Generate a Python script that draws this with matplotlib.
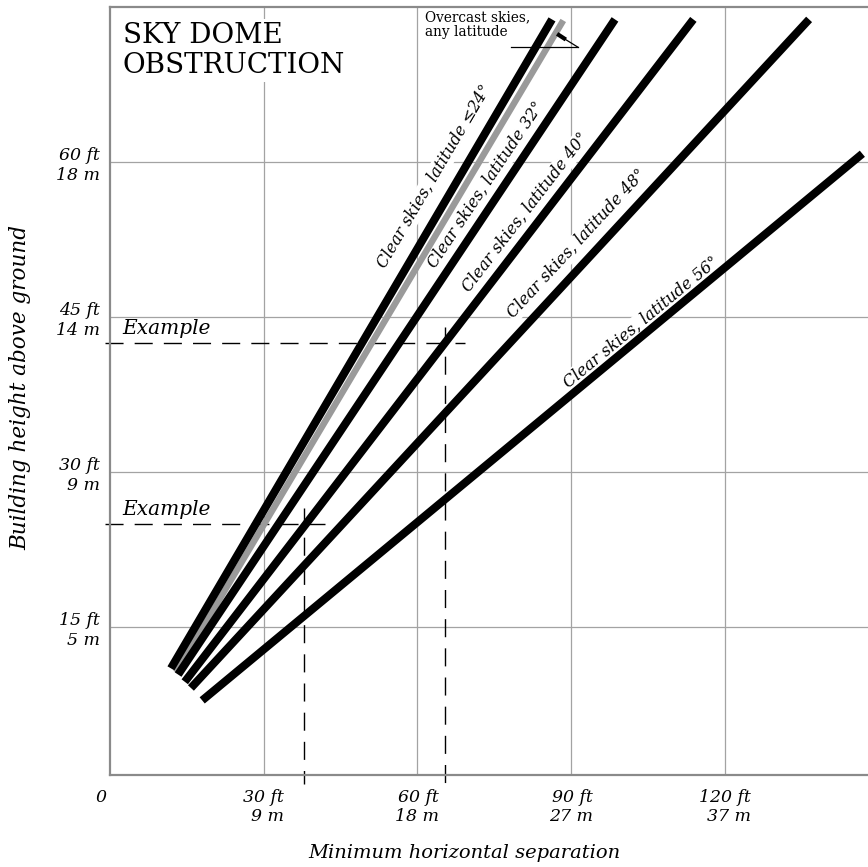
import matplotlib
matplotlib.use('Agg')
import matplotlib.pyplot as plt
import numpy as np

# ---------------- data ----------------
line_names = ['Clear skies, latitude \u226424\u00b0', 'Clear skies, latitude 32\u00b0',
              'Clear skies, latitude 40\u00b0', 'Clear skies, latitude 48\u00b0',
              'Clear skies, latitude 56\u00b0']
sep_start = [11.9, 13.3, 14.6, 15.8, 18.0]
height_start = [11.0, 10.4, 9.7, 9.1, 7.9]
sep_end = [86.3, 98.6, 113.9, 136.5, 146.9]
height_end = [73.8, 73.8, 73.8, 73.8, 60.8]
overcast_sep = [12.9, 88.5]
overcast_height = [10.6, 73.7]
label_sep = [63.3, 73.4, 81.1, 91.2, 103.7]
label_height = [58.6, 57.8, 55.1, 52.1, 44.5]

x_ticks = [30, 60, 90, 120]
x_ticklabels = ['30 ft\n9 m', '60 ft\n18 m', '90 ft\n27 m', '120 ft\n37 m']
y_ticks = [15, 30, 45, 60]
y_ticklabels = ['15 ft\n5 m', '30 ft\n9 m', '45 ft\n14 m', '60 ft\n18 m']

example_height = [42.5, 25.0]
example_sep = [65.4, 37.9]

# ---------------- figure ----------------
W, H = 868, 867
fig = plt.figure(figsize=(W / 100, H / 100), dpi=100)
ax = fig.add_axes([110 / W, (H - 775) / H, (868 - 110) / W, (775 - 7) / H])
ax.set_xlim(0, 148.0)
ax.set_ylim(0.68, 75.0)

SERIF = ['DejaVu Serif']
grid_c = '#a3a3a3'
spine_c = '#8a8a8a'

for s in ['left', 'bottom', 'top']:
    ax.spines[s].set_color(spine_c)
    ax.spines[s].set_linewidth(1.6)
ax.spines['right'].set_visible(False)

ax.set_xticks(x_ticks)
ax.set_xticklabels(x_ticklabels, family=SERIF, style='italic', fontsize=12.5)
ax.set_yticks(y_ticks)
ax.set_yticklabels(y_ticklabels, family=SERIF, style='italic', fontsize=12.5)
for lbl in ax.get_xticklabels():
    lbl.set_multialignment('right')
ax.tick_params(axis='both', length=0)
ax.tick_params(axis='x', pad=10)
ax.tick_params(axis='y', pad=7)
ax.grid(True, color=grid_c, lw=0.9)
ax.set_axisbelow(True)

ax.annotate('0', xy=(0, 0), xycoords=('data', 'axes fraction'), xytext=(-9, -14),
            textcoords='offset pixels', ha='center', va='top', family=SERIF,
            style='italic', fontsize=12.5)

# example dashed guides
dash = (13, 8)
for h, s in zip(example_height, example_sep):
    ax.plot([-1.0, s + 4.0], [h, h], color='black', lw=1.0, dashes=dash, clip_on=False, zorder=1.5)
    ax.plot([s, s], [h + 1.5, -0.2], color='black', lw=1.0, dashes=dash, clip_on=False, zorder=1.5)
    ax.text(2.5, h + 0.5, 'Example', family=SERIF, style='italic', fontsize=14.5,
            ha='left', va='bottom', zorder=2)

# overcast line (grey) beneath clear-sky lines
ax.plot(overcast_sep, overcast_height, color='#9a9a9a', lw=4.6, solid_capstyle='butt', zorder=3)
for i in range(len(line_names)):
    ax.plot([sep_start[i], sep_end[i]], [height_start[i], height_end[i]], color='black',
            lw=5.8, solid_capstyle='butt', zorder=4)


def angle(x0, y0, x1, y1):
    p0 = ax.transData.transform((x0, y0))
    p1 = ax.transData.transform((x1, y1))
    return np.degrees(np.arctan2(p1[1] - p0[1], p1[0] - p0[0]))


for i, name in enumerate(line_names):
    rot = angle(sep_start[i], height_start[i], sep_end[i], height_end[i])
    ax.text(label_sep[i], label_height[i], name, rotation=rot, rotation_mode='anchor',
            ha='center', va='center', family=SERIF, style='italic', fontsize=11.5,
            bbox=dict(facecolor='white', edgecolor='none', pad=1.0), zorder=2.5)

# title
ax.text(0.017, 0.981, 'SKY DOME\nOBSTRUCTION', transform=ax.transAxes, ha='left', va='top',
        family=SERIF, fontsize=20, linespacing=1.15,
        bbox=dict(facecolor='white', edgecolor='none', pad=2), zorder=2.5)

# overcast annotation
ax.text(61.5, 74.7, 'Overcast skies,\nany latitude', ha='left', va='top', family=SERIF,
        fontsize=9.8, linespacing=1.1, zorder=2.5)
ax.plot([78.3, 91.4], [71.1, 71.1], color='black', lw=0.9, zorder=5)
ax.plot([91.4, 88.8], [71.1, 71.9], color='black', lw=0.9, zorder=5)
ax.plot([89.0, 87.3], [71.85, 72.4], color='black', lw=3.0, solid_capstyle='butt', zorder=5)

# axis labels
fig.text(464 / W, 1 - 853 / H, 'Minimum horizontal separation', ha='center', va='center',
         family=SERIF, style='italic', fontsize=14)
fig.text(20 / W, 1 - 388 / H, 'Building height above ground', ha='center', va='center',
         rotation=90, family=SERIF, style='italic', fontsize=15.5)

fig.savefig('out.png', dpi=100)
